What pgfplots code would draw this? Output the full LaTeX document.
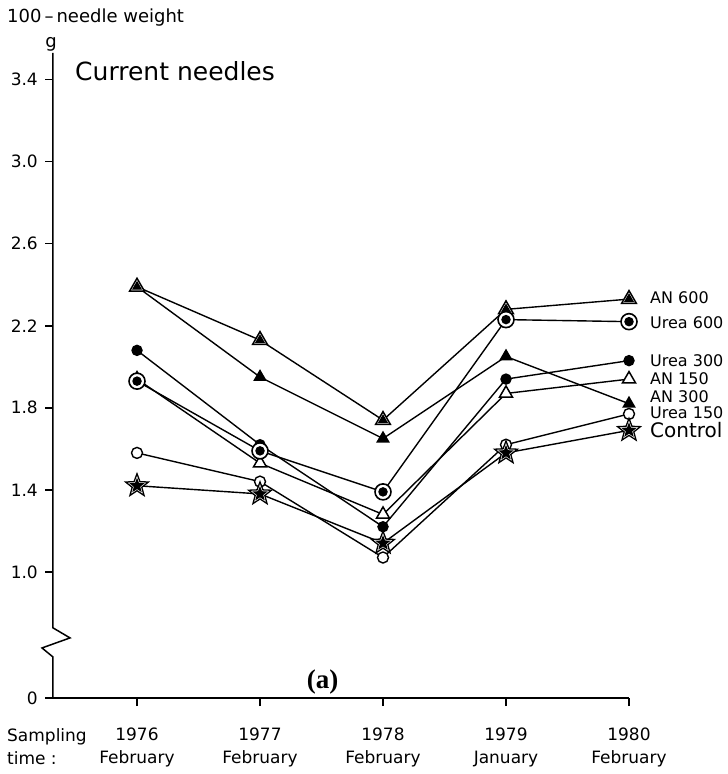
\documentclass[border=0pt]{standalone}
\usepackage{fontspec}
\setmainfont{DejaVu Sans}
\newfontfamily\seriffont{Liberation Serif}
\usepackage{pgfplots}
\usepackage{pgfplotstable}
\pgfplotsset{compat=1.18}

\pgfdeclareplotmark{pentastar}{%
 \pgfpathmoveto{\pgfpointpolar{90}{\pgfplotmarksize}}%
 \pgfpathlineto{\pgfpointpolar{126}{0.42\pgfplotmarksize}}%
 \pgfpathlineto{\pgfpointpolar{162}{\pgfplotmarksize}}%
 \pgfpathlineto{\pgfpointpolar{198}{0.42\pgfplotmarksize}}%
 \pgfpathlineto{\pgfpointpolar{234}{\pgfplotmarksize}}%
 \pgfpathlineto{\pgfpointpolar{270}{0.42\pgfplotmarksize}}%
 \pgfpathlineto{\pgfpointpolar{306}{\pgfplotmarksize}}%
 \pgfpathlineto{\pgfpointpolar{342}{0.42\pgfplotmarksize}}%
 \pgfpathlineto{\pgfpointpolar{18}{\pgfplotmarksize}}%
 \pgfpathlineto{\pgfpointpolar{54}{0.42\pgfplotmarksize}}%
 \pgfpathclose
 \pgfusepathqfillstroke
}

\pgfplotstableread{
year an600 an300 urea600 urea300 an150 urea150 control
1976 2.39 2.39 1.93 2.08 1.94 1.58 1.42
1977 2.13 1.95 1.59 1.62 1.53 1.44 1.38
1978 1.74 1.65 1.39 1.22 1.28 1.07 1.14
1979 2.28 2.05 2.23 1.94 1.87 1.62 1.58
1980 2.33 1.82 2.22 2.03 1.94 1.77 1.69
}\data

\begin{document}
\begin{tikzpicture}
\begin{axis}[
 scale only axis, width=576pt, height=645pt,
 xmin=1975.317, xmax=1980, ymin=0.385, ymax=3.53,
 clip=false,
 axis x line*=bottom, axis y line*=left,
 y axis line style={draw=none},
 x axis line style={line width=1.5pt},
 tick align=outside, major tick length=8pt,
 tick style={black, line width=1.5pt},
 xtick={1976,1977,1978,1979,1980},
 xticklabels={1976\\February,1977\\February,1978\\February,1979\\January,1980\\February},
 xticklabel style={anchor=north, inner sep=0pt, align=center, yshift=-22pt, font=\fontsize{17}{23}\selectfont},
 ytick={0.385,1.0,1.4,1.8,2.2,2.6,3.0,3.4},
 yticklabels={0,1.0,1.4,1.8,2.2,2.6,3.0,3.4},
 yticklabel style={anchor=east, inner sep=0pt, xshift=-7pt, font=\fontsize{17}{20}\selectfont},
 every axis plot/.append style={black, line width=1.4pt},
]
% lines
\addplot[no marks] table[x=year,y=an600]{\data};
\addplot[no marks] table[x=year,y=an300]{\data};
\addplot[no marks] table[x=year,y=urea600]{\data};
\addplot[no marks] table[x=year,y=urea300]{\data};
\addplot[no marks] table[x=year,y=an150]{\data};
\addplot[no marks] table[x=year,y=urea150]{\data};
\addplot[no marks] table[x=year,y=control]{\data};
% markers
\addplot[only marks, mark=triangle*, mark size=7.5pt, mark options={fill=white, line width=1.5pt}] table[x=year,y=an150]{\data};
\addplot[only marks, mark=triangle*, mark size=6.5pt, mark options={fill=black}] table[x=year,y=an300]{\data};
\addplot[only marks, mark=triangle*, mark size=8.5pt, mark options={fill=white, line width=1.5pt}] table[x=year,y=an600]{\data};
\addplot[only marks, mark=triangle*, mark size=4.5pt, mark options={fill=black}] table[x=year,y=an600]{\data};
\addplot[only marks, mark=*, mark size=5pt, mark options={fill=black}] table[x=year,y=urea300]{\data};
\addplot[only marks, mark=*, mark size=8pt, mark options={fill=white, line width=1.6pt}] table[x=year,y=urea600]{\data};
\addplot[only marks, mark=*, mark size=4pt, mark options={fill=black}] table[x=year,y=urea600]{\data};
\addplot[only marks, mark=*, mark size=5.5pt, mark options={fill=white, line width=1.4pt}] table[x=year,y=urea150]{\data};
\addplot[only marks, mark=pentastar, mark size=12pt, mark options={fill=white, line width=1.3pt}] table[x=year,y=control]{\data};
\addplot[only marks, mark=pentastar, mark size=6pt, mark options={fill=black}] table[x=year,y=control]{\data};

% y axis with break
\draw[line width=1.5pt] (axis cs:1975.317,3.53) -- (axis cs:1975.317,0.727)
  -- ([xshift=17pt]axis cs:1975.317,0.678) -- ([xshift=-11pt]axis cs:1975.317,0.629)
  -- (axis cs:1975.317,0.585) -- (axis cs:1975.317,0.385);

% texts
\node[anchor=west, inner sep=0pt, font=\fontsize{25}{30}\selectfont] at (axis cs:1975.496,3.44) {Current needles};
\node[anchor=base west, inner sep=0pt, font=\fontsize{18}{20}\selectfont] at ([xshift=-46pt,yshift=30pt]rel axis cs:0,1) {100\,–\,needle weight};
\node[anchor=base, inner sep=0pt, font=\fontsize{18}{20}\selectfont] at ([xshift=-2pt,yshift=5pt]rel axis cs:0,1) {g};
\node[anchor=north west, inner sep=0pt, align=left, font=\fontsize{17}{23}\selectfont] at ([xshift=-46pt,yshift=-30pt]rel axis cs:0,0) {Sampling\\time :};
\node[inner sep=0pt, font={\seriffont\bfseries\fontsize{27}{30}\selectfont}] at (axis cs:1977.51,0.463) {(a)};

\node[anchor=west, inner sep=0pt, font=\fontsize{16}{18}\selectfont] at ([xshift=21pt]axis cs:1980,2.337) {AN 600};
\node[anchor=west, inner sep=0pt, font=\fontsize{16}{18}\selectfont] at ([xshift=21pt]axis cs:1980,2.215) {Urea 600};
\node[anchor=west, inner sep=0pt, font=\fontsize{16}{18}\selectfont] at ([xshift=21pt]axis cs:1980,2.029) {Urea 300};
\node[anchor=west, inner sep=0pt, font=\fontsize{16}{18}\selectfont] at ([xshift=21pt]axis cs:1980,1.941) {AN 150};
\node[anchor=west, inner sep=0pt, font=\fontsize{16}{18}\selectfont] at ([xshift=21pt]axis cs:1980,1.854) {AN 300};
\node[anchor=west, inner sep=0pt, font=\fontsize{16}{18}\selectfont] at ([xshift=21pt]axis cs:1980,1.776) {Urea 150};
\node[anchor=west, inner sep=0pt, font=\fontsize{20}{22}\selectfont] at ([xshift=21pt]axis cs:1980,1.693) {Control};

\coordinate (ll) at (rel axis cs:0,0);
\coordinate (ur) at (rel axis cs:1,1);
\end{axis}
\pgfresetboundingbox
\path[use as bounding box] ([shift={(-53pt,-76pt)}]ll) rectangle ([shift={(99pt,53pt)}]ur);
\end{tikzpicture}
\end{document}
